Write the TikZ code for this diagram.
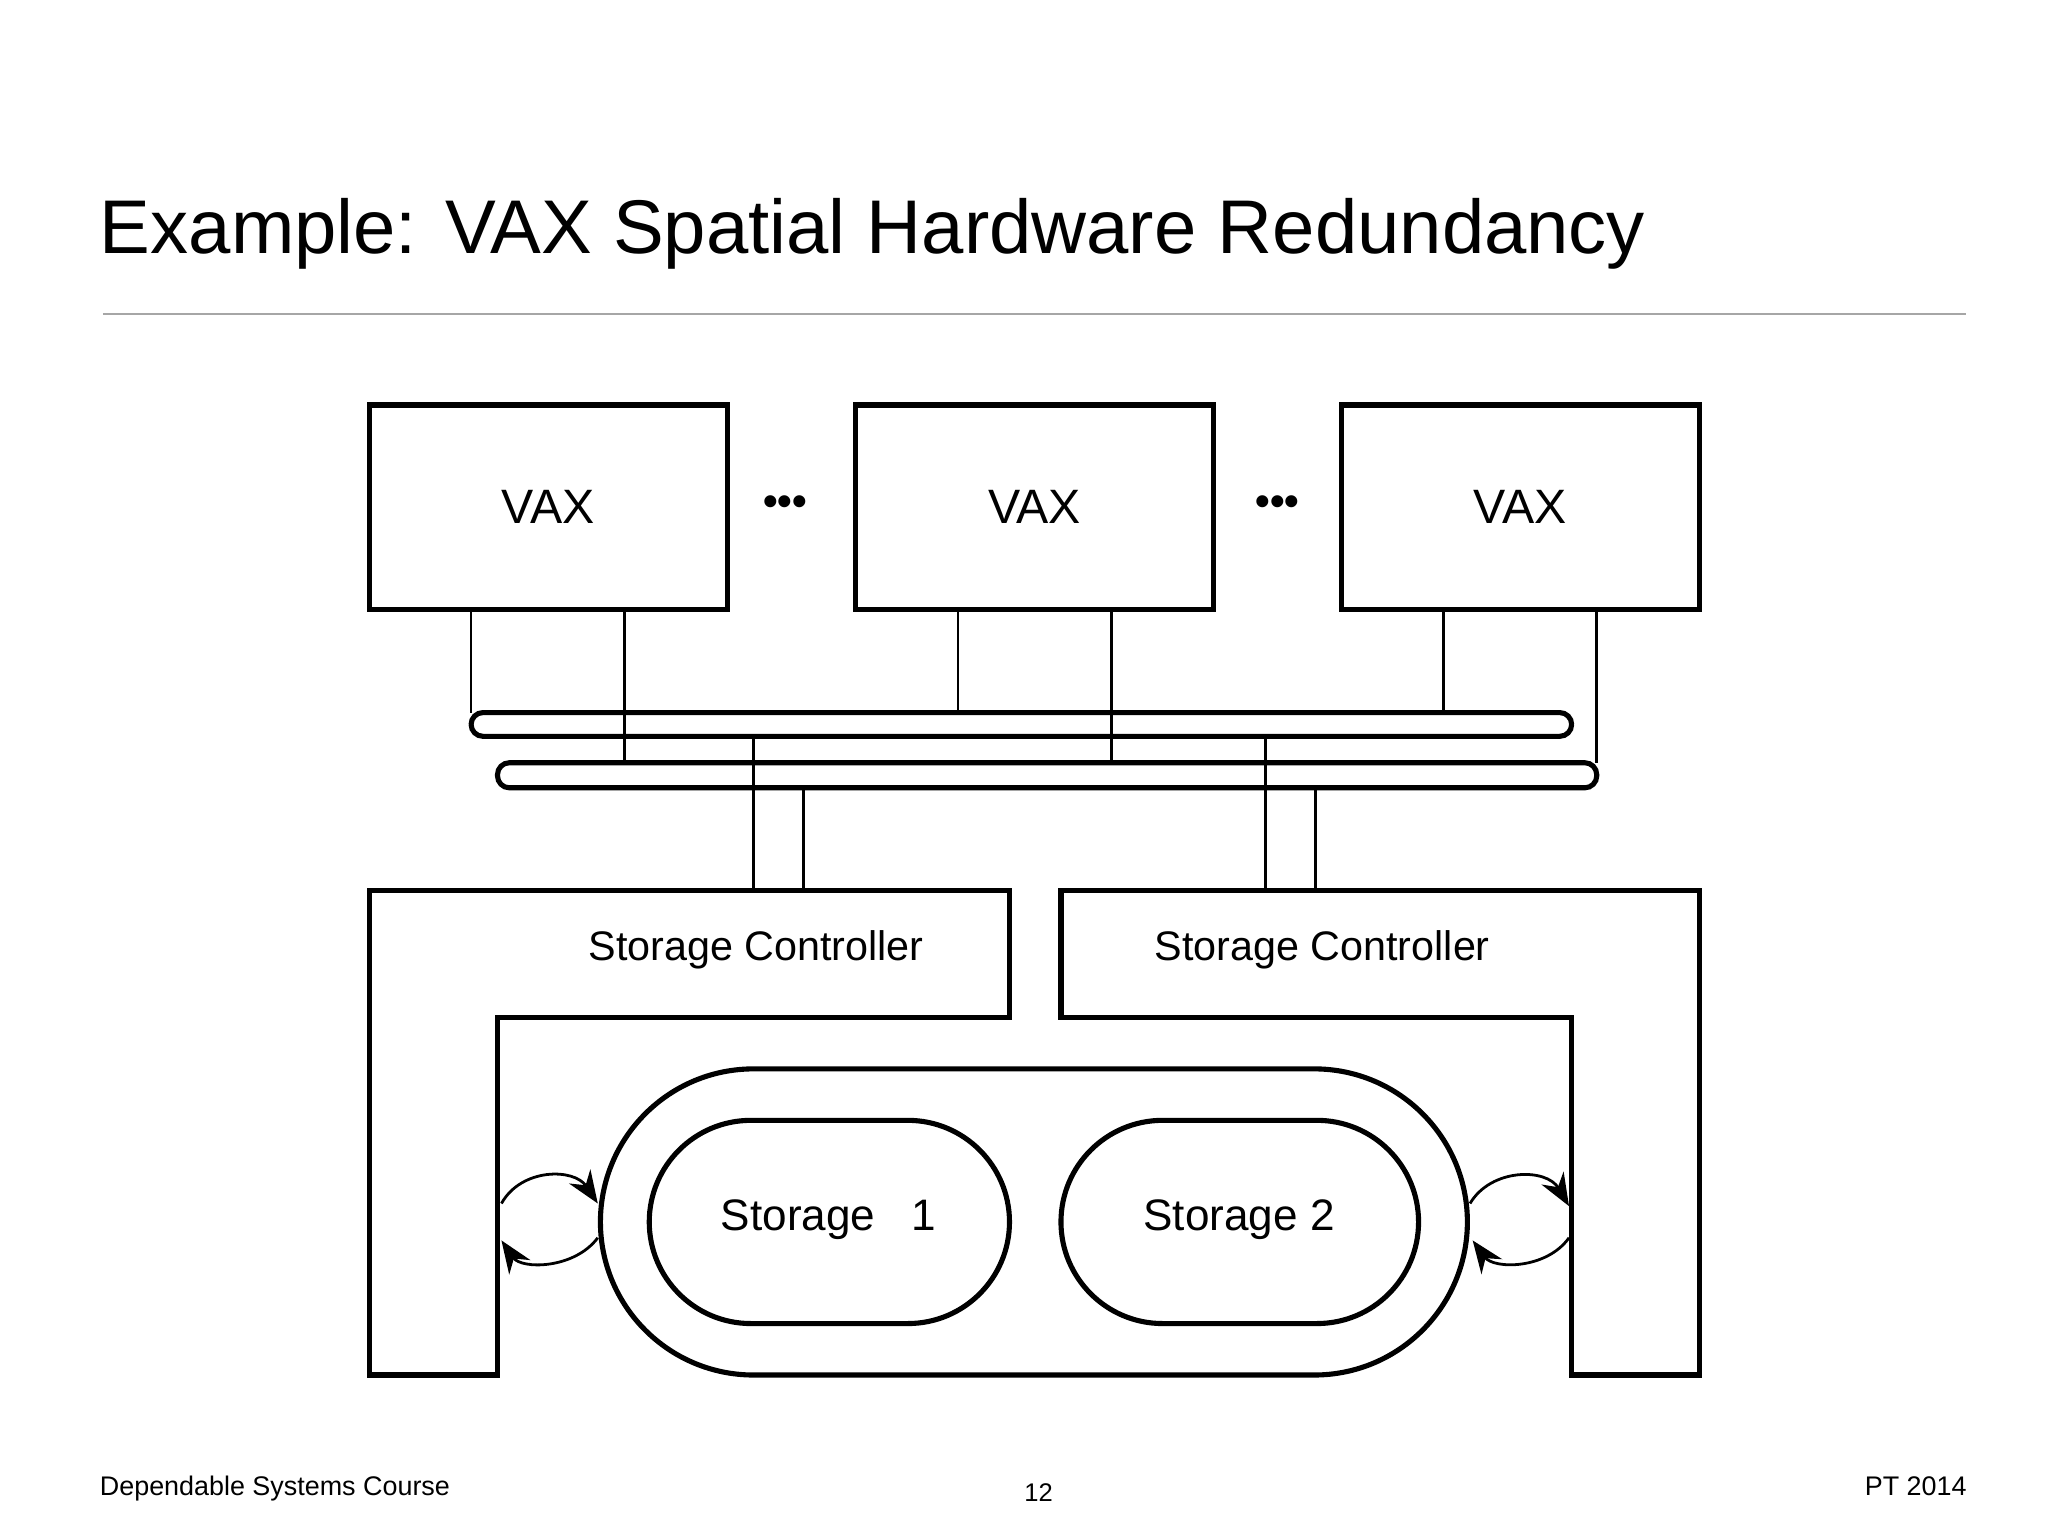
\documentclass[tikz,border=0pt]{standalone}
\usepackage{fontspec}
\setmainfont{Liberation Sans}
\usetikzlibrary{arrows.meta}
\begin{document}
\begin{tikzpicture}[x=0.01cm,y=-0.01cm,
  box/.style={draw,line width=1.1pt,minimum width=2.71cm,minimum height=1.55cm,font=\fontsize{10.4}{12}\selectfont},
  thick1/.style={line width=1.1pt},
  wire/.style={line width=0.6pt},
  lbl/.style={font=\fontsize{8.9}{11}\selectfont},
  sto/.style={font=\fontsize{9.5}{12}\selectfont},
  arr/.style={line width=0.6pt,-{Stealth[length=7pt,width=5.5pt]}}]
\useasboundingbox (0,0) rectangle (1552,1164);
\node[anchor=base west,inner sep=0pt,font=\fontsize{16.4}{20}\selectfont] (title) at (75,192) {Example: VAX Spatial Hardware Redundancy};
\draw[gray!70,line width=0.5pt] (78,238) -- (1490,238);
\node[box] (v1) at (415.5,384.5) {VAX};
\node[box] (v2) at (784,384.5) {VAX};
\node[box] (v3) at (1152,384.5) {VAX};
\node[font=\fontsize{9}{11}\selectfont] (d1) at (595,383) {\textbf{•••}};
\node[font=\fontsize{9}{11}\selectfont] (d2) at (968,383) {\textbf{•••}};
% buses
\draw[thick1,rounded corners=0.09cm] (357,540) rectangle (1191,558);
\draw[thick1,rounded corners=0.09cm] (377,578) rectangle (1210,597);
\foreach \x in {357,726,1094} \draw[wire] (\x,462) -- (\x,540);
\foreach \x in {473,842,1210} \draw[wire] (\x,462) -- (\x,578);
\foreach \x in {571,959} \draw[wire] (\x,558) -- (\x,675);
\foreach \x in {609,997} \draw[wire] (\x,597) -- (\x,675);
% controllers
\draw[thick1] (280,675) -- (765,675) -- (765,771) -- (377,771) -- (377,1042) -- (280,1042) -- cycle;
\draw[thick1] (804,675) -- (1288,675) -- (1288,1042) -- (1191,1042) -- (1191,771) -- (804,771) -- cycle;
\node[lbl] (c1) at (573,720) {Storage Controller};
\node[lbl] (c2) at (1002,720) {Storage Controller};
% storage
\draw[thick1,rounded corners=1.16cm] (455,810) rectangle (1112,1042);
\draw[thick1,rounded corners=0.77cm] (492,849) rectangle (765,1003);
\draw[thick1,rounded corners=0.77cm] (804,849) rectangle (1075,1003);
\node[sto] (s1) at (628,924) {Storage\ \ \ 1};
\node[sto] (s2) at (939,924) {Storage 2};
% arrows
\draw[arr] (380,912) .. controls (395,885) and (435,885) .. (453,912);
\draw[arr] (453,938) .. controls (435,962) and (395,962) .. (380,940);
\draw[arr] (1114,912) .. controls (1130,885) and (1172,885) .. (1189,914);
\draw[arr] (1189,938) .. controls (1172,962) and (1132,962) .. (1116,940);
% footer
\node[anchor=base west,inner sep=0pt,font=\fontsize{5.8}{7}\selectfont] (f1) at (75,1133) {Dependable Systems Course};
\node[anchor=base,inner sep=0pt,font=\fontsize{5.5}{7}\selectfont] (f2) at (787,1138) {12};
\node[anchor=base east,inner sep=0pt,font=\fontsize{5.8}{7}\selectfont] (f3) at (1491,1133) {PT 2014};
\end{tikzpicture}
\end{document}
